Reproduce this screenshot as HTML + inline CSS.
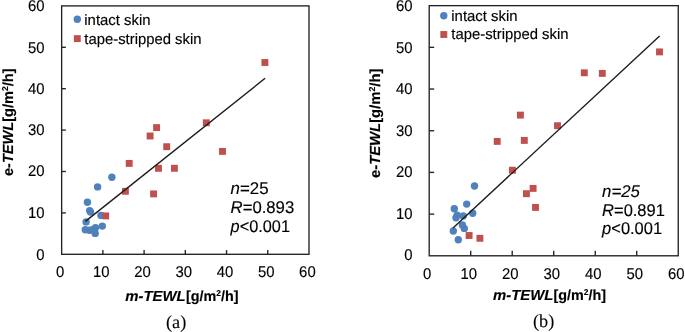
<!DOCTYPE html><html><head><meta charset="utf-8"><style>
html,body{margin:0;padding:0;background:#fff;width:685px;height:332px;overflow:hidden}
svg{display:block;will-change:transform}
text{font-family:"Liberation Sans",sans-serif;fill:#000;text-rendering:geometricPrecision;stroke:#000;stroke-width:0.15px}
.s{font-family:"Liberation Serif",serif;stroke-width:0.1px}
</style></head><body>
<svg width="685" height="332" viewBox="0 0 685 332">
<g stroke="#222" stroke-width="1.35" fill="none"><line x1="61.65" y1="212.90" x2="65.85" y2="212.90"/><line x1="102.88" y1="254.3" x2="102.88" y2="250.10000000000002"/><line x1="61.65" y1="171.50" x2="65.85" y2="171.50"/><line x1="144.10" y1="254.3" x2="144.10" y2="250.10000000000002"/><line x1="61.65" y1="130.10" x2="65.85" y2="130.10"/><line x1="185.32" y1="254.3" x2="185.32" y2="250.10000000000002"/><line x1="61.65" y1="88.70" x2="65.85" y2="88.70"/><line x1="226.55" y1="254.3" x2="226.55" y2="250.10000000000002"/><line x1="61.65" y1="47.30" x2="65.85" y2="47.30"/><line x1="267.77" y1="254.3" x2="267.77" y2="250.10000000000002"/><rect x="61.65" y="5.9" width="247.35" height="248.40"/></g><circle cx="111.9" cy="177.2" r="3.7" fill="#4F81BD"/><circle cx="97.6" cy="186.9" r="3.7" fill="#4F81BD"/><circle cx="87.4" cy="202.2" r="3.7" fill="#4F81BD"/><circle cx="89.7" cy="210.6" r="3.7" fill="#4F81BD"/><circle cx="90.5" cy="212.1" r="3.7" fill="#4F81BD"/><circle cx="101" cy="215.4" r="3.7" fill="#4F81BD"/><circle cx="86.1" cy="221.9" r="3.7" fill="#4F81BD"/><circle cx="85.3" cy="229.8" r="3.7" fill="#4F81BD"/><circle cx="89.5" cy="230.2" r="3.7" fill="#4F81BD"/><circle cx="92.6" cy="229.8" r="3.7" fill="#4F81BD"/><circle cx="95.5" cy="227.7" r="3.7" fill="#4F81BD"/><circle cx="95.2" cy="233.4" r="3.7" fill="#4F81BD"/><circle cx="102.3" cy="226.1" r="3.7" fill="#4F81BD"/><rect x="261.45" y="59.05" width="6.9" height="6.9" fill="#C0504D"/><rect x="202.85" y="119.35" width="6.9" height="6.9" fill="#C0504D"/><rect x="153.15" y="124.15" width="6.9" height="6.9" fill="#C0504D"/><rect x="146.65" y="132.55" width="6.9" height="6.9" fill="#C0504D"/><rect x="163.25" y="143.25" width="6.9" height="6.9" fill="#C0504D"/><rect x="219.05" y="147.95" width="6.9" height="6.9" fill="#C0504D"/><rect x="125.75" y="159.95" width="6.9" height="6.9" fill="#C0504D"/><rect x="155.05" y="164.85" width="6.9" height="6.9" fill="#C0504D"/><rect x="170.95" y="164.85" width="6.9" height="6.9" fill="#C0504D"/><rect x="121.95" y="187.85" width="6.9" height="6.9" fill="#C0504D"/><rect x="150.15" y="190.45" width="6.9" height="6.9" fill="#C0504D"/><rect x="102.25" y="212.45" width="6.9" height="6.9" fill="#C0504D"/><line x1="85.4" y1="221.4" x2="265.1" y2="78.3" stroke="#1c1c1c" stroke-width="1.4"/>
<g stroke="#222" stroke-width="1.35" fill="none"><line x1="429.2" y1="214.11" x2="434.2" y2="214.11"/><line x1="470.71" y1="255.8" x2="470.71" y2="250.8"/><line x1="429.2" y1="172.42" x2="434.2" y2="172.42"/><line x1="512.22" y1="255.8" x2="512.22" y2="250.8"/><line x1="429.2" y1="130.73" x2="434.2" y2="130.73"/><line x1="553.73" y1="255.8" x2="553.73" y2="250.8"/><line x1="429.2" y1="89.03" x2="434.2" y2="89.03"/><line x1="595.23" y1="255.8" x2="595.23" y2="250.8"/><line x1="429.2" y1="47.34" x2="434.2" y2="47.34"/><line x1="636.74" y1="255.8" x2="636.74" y2="250.8"/><rect x="429.2" y="5.65" width="249.05" height="250.15"/></g><circle cx="474.5" cy="186" r="3.7" fill="#4F81BD"/><circle cx="466.7" cy="204.1" r="3.7" fill="#4F81BD"/><circle cx="454.3" cy="208.8" r="3.7" fill="#4F81BD"/><circle cx="472.7" cy="213.2" r="3.7" fill="#4F81BD"/><circle cx="457.2" cy="215.2" r="3.7" fill="#4F81BD"/><circle cx="456" cy="217.8" r="3.7" fill="#4F81BD"/><circle cx="463.2" cy="215.9" r="3.7" fill="#4F81BD"/><circle cx="462.4" cy="224.9" r="3.7" fill="#4F81BD"/><circle cx="464.3" cy="228.4" r="3.7" fill="#4F81BD"/><circle cx="453.3" cy="231" r="3.7" fill="#4F81BD"/><circle cx="458.3" cy="239.7" r="3.7" fill="#4F81BD"/><rect x="493.75" y="137.95" width="6.9" height="6.9" fill="#C0504D"/><rect x="516.95" y="111.65" width="6.9" height="6.9" fill="#C0504D"/><rect x="520.85" y="136.95" width="6.9" height="6.9" fill="#C0504D"/><rect x="508.95" y="166.75" width="6.9" height="6.9" fill="#C0504D"/><rect x="529.65" y="184.95" width="6.9" height="6.9" fill="#C0504D"/><rect x="522.95" y="190.25" width="6.9" height="6.9" fill="#C0504D"/><rect x="532.05" y="203.95" width="6.9" height="6.9" fill="#C0504D"/><rect x="554.05" y="122.25" width="6.9" height="6.9" fill="#C0504D"/><rect x="580.85" y="69.35" width="6.9" height="6.9" fill="#C0504D"/><rect x="598.85" y="69.95" width="6.9" height="6.9" fill="#C0504D"/><rect x="656.05" y="48.45" width="6.9" height="6.9" fill="#C0504D"/><rect x="465.65" y="232.05" width="6.9" height="6.9" fill="#C0504D"/><rect x="476.45" y="234.85" width="6.9" height="6.9" fill="#C0504D"/><line x1="453.0" y1="228.0" x2="659.6" y2="36.0" stroke="#1c1c1c" stroke-width="1.4"/>
<text transform="translate(44.5,260) scale(0.96,1)" text-anchor="end" font-size="15.5">0</text><text transform="translate(60.05,277) scale(0.96,1)" text-anchor="middle" font-size="15.5">0</text><text transform="translate(44.5,218) scale(0.96,1)" text-anchor="end" font-size="15.5">10</text><text transform="translate(101.28,277) scale(0.96,1)" text-anchor="middle" font-size="15.5">10</text><text transform="translate(44.5,176) scale(0.96,1)" text-anchor="end" font-size="15.5">20</text><text transform="translate(142.50,277) scale(0.96,1)" text-anchor="middle" font-size="15.5">20</text><text transform="translate(44.5,135) scale(0.96,1)" text-anchor="end" font-size="15.5">30</text><text transform="translate(183.72,277) scale(0.96,1)" text-anchor="middle" font-size="15.5">30</text><text transform="translate(44.5,94) scale(0.96,1)" text-anchor="end" font-size="15.5">40</text><text transform="translate(224.95,277) scale(0.96,1)" text-anchor="middle" font-size="15.5">40</text><text transform="translate(44.5,53) scale(0.96,1)" text-anchor="end" font-size="15.5">50</text><text transform="translate(266.17,277) scale(0.96,1)" text-anchor="middle" font-size="15.5">50</text><text transform="translate(44.5,11) scale(0.96,1)" text-anchor="end" font-size="15.5">60</text><text transform="translate(307.40,277) scale(0.96,1)" text-anchor="middle" font-size="15.5">60</text>
<text transform="translate(412.5,260) scale(0.96,1)" text-anchor="end" font-size="15.5">0</text><text transform="translate(427.20,279) scale(0.96,1)" text-anchor="middle" font-size="15.5">0</text><text transform="translate(412.5,219) scale(0.96,1)" text-anchor="end" font-size="15.5">10</text><text transform="translate(468.71,279) scale(0.96,1)" text-anchor="middle" font-size="15.5">10</text><text transform="translate(412.5,177) scale(0.96,1)" text-anchor="end" font-size="15.5">20</text><text transform="translate(510.22,279) scale(0.96,1)" text-anchor="middle" font-size="15.5">20</text><text transform="translate(412.5,136) scale(0.96,1)" text-anchor="end" font-size="15.5">30</text><text transform="translate(551.73,279) scale(0.96,1)" text-anchor="middle" font-size="15.5">30</text><text transform="translate(412.5,94) scale(0.96,1)" text-anchor="end" font-size="15.5">40</text><text transform="translate(593.23,279) scale(0.96,1)" text-anchor="middle" font-size="15.5">40</text><text transform="translate(412.5,53) scale(0.96,1)" text-anchor="end" font-size="15.5">50</text><text transform="translate(634.74,279) scale(0.96,1)" text-anchor="middle" font-size="15.5">50</text><text transform="translate(412.5,11) scale(0.96,1)" text-anchor="end" font-size="15.5">60</text><text transform="translate(676.25,279) scale(0.96,1)" text-anchor="middle" font-size="15.5">60</text>
<circle cx="77.3" cy="19.3" r="3.7" fill="#4F81BD"/><rect x="73.85" y="35.15" width="6.9" height="6.9" fill="#C0504D"/><text x="84.3" y="25" font-size="15" textLength="66.2" lengthAdjust="spacingAndGlyphs">intact skin</text><text x="84.3" y="44" font-size="15" textLength="117.2" lengthAdjust="spacingAndGlyphs">tape-stripped skin</text>
<circle cx="443.8" cy="15.7" r="3.7" fill="#4F81BD"/><rect x="440.35" y="31.05" width="6.9" height="6.9" fill="#C0504D"/><text x="451.3" y="21.2" font-size="15" textLength="66.2" lengthAdjust="spacingAndGlyphs">intact skin</text><text x="451.3" y="39.1" font-size="15" textLength="117.2" lengthAdjust="spacingAndGlyphs">tape-stripped skin</text>
<text x="230.6" y="193.6" font-size="17" textLength="38.0" lengthAdjust="spacingAndGlyphs"><tspan font-style="italic">n</tspan>=25</text><text x="230.6" y="212.5" font-size="17" textLength="63.6" lengthAdjust="spacingAndGlyphs"><tspan font-style="italic">R</tspan>=0.893</text><text x="230.6" y="231.9" font-size="17" textLength="59.4" lengthAdjust="spacingAndGlyphs"><tspan font-style="italic">p</tspan>&lt;0.001</text>
<text x="602.1" y="196.7" font-size="17" textLength="37.8" lengthAdjust="spacingAndGlyphs"><tspan font-style="italic">n=25</tspan></text><text x="602.1" y="215.5" font-size="17" textLength="62.8" lengthAdjust="spacingAndGlyphs"><tspan font-style="italic">R</tspan>=0.891</text><text x="602.1" y="234.0" font-size="17" textLength="60.0" lengthAdjust="spacingAndGlyphs"><tspan font-style="italic">p</tspan>&lt;0.001</text>
<text transform="translate(12.8,176.0) rotate(-90)" x="0" y="0" font-size="14.6" font-weight="bold" textLength="107.6" lengthAdjust="spacingAndGlyphs">e-<tspan font-style="italic">TEWL</tspan>[g/m<tspan font-size="8.6" dy="-5.3">2</tspan><tspan dy="5.3">/h]</tspan></text>
<text transform="translate(380.1,178.0) rotate(-90)" x="0" y="0" font-size="14.6" font-weight="bold" textLength="109.4" lengthAdjust="spacingAndGlyphs">e-<tspan font-style="italic">TEWL</tspan>[g/m<tspan font-size="8.6" dy="-5.3">2</tspan><tspan dy="5.3">/h]</tspan></text>
<text x="125.2" y="301.2" font-size="14.6" font-weight="bold" font-style="italic" textLength="60.4" lengthAdjust="spacingAndGlyphs">m-TEWL</text><text x="186.0" y="301.2" font-size="14.6" font-weight="bold" textLength="52.6" lengthAdjust="spacingAndGlyphs">[g/m<tspan font-size="8.6" dy="-5.3">2</tspan><tspan dy="5.3">/h]</tspan></text>
<text x="493.0" y="300.0" font-size="14.6" font-weight="bold" font-style="italic" textLength="60.4" lengthAdjust="spacingAndGlyphs">m-TEWL</text><text x="553.4" y="300.0" font-size="14.6" font-weight="bold" textLength="52.6" lengthAdjust="spacingAndGlyphs">[g/m<tspan font-size="8.6" dy="-5.3">2</tspan><tspan dy="5.3">/h]</tspan></text>
<text class="s" x="166" y="328" font-size="18.3">(a)</text>
<text class="s" x="533" y="327.0" font-size="18.3">(b)</text>
</svg></body></html>
